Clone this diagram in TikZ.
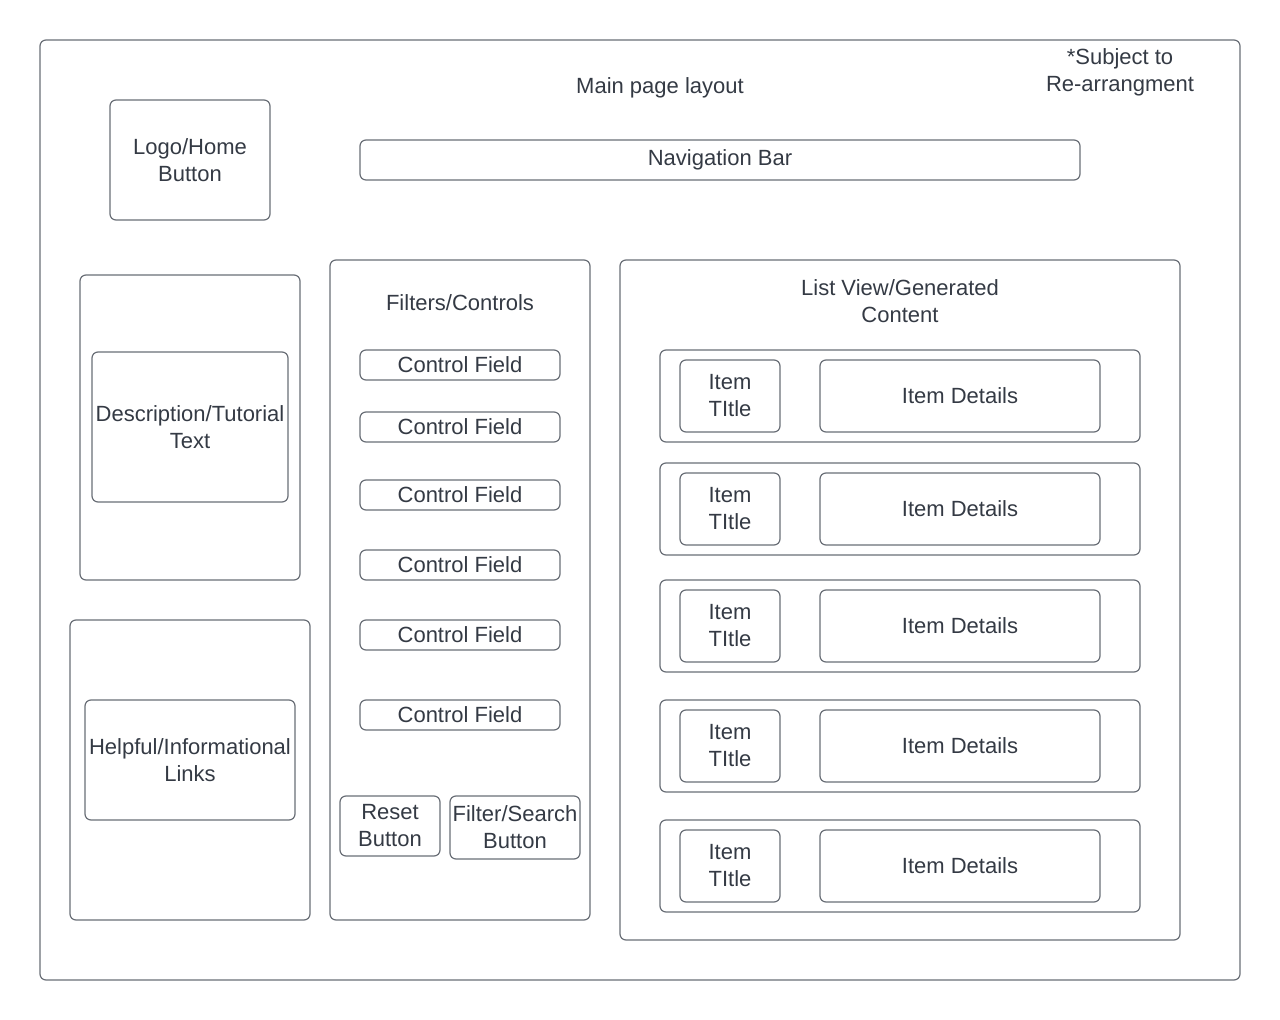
\documentclass[tikz,border=0pt]{standalone}
\usepackage{fontspec}
\setmainfont{Liberation Sans}
\usepackage{xcolor}
\usepackage{tikz}
\usetikzlibrary{positioning}
\definecolor{WireLine}{RGB}{105,110,118}
\definecolor{WireText}{RGB}{52,58,68}

\begin{document}
\begin{tikzpicture}[
  x=0.5pt, y=-0.5pt,
  frame/.style={rectangle, rounded corners=3pt, draw=WireLine, line width=0.6pt, inner sep=0pt, align=center, text=WireText, font=\fontsize{11}{13.5}\selectfont},
  caption/.style={inner sep=0pt, align=center, text=WireText, font=\fontsize{11}{13.5}\selectfont}
]
\useasboundingbox (0,0) rectangle (1280,1020);

% Page frame + header
\node[frame, minimum width=600pt, minimum height=470pt] (page) at (640,510) {};
\node[caption] (pagetitle) at (660,88) {Main page layout};
\node[caption] (note) at (1120,72) {*Subject to\\Re-arrangment};
\node[frame, minimum width=80pt, minimum height=60pt] (logo) at (190,160) {Logo/Home\\Button};
\node[frame, minimum width=360pt, minimum height=20pt] (navbar) at (720,160) {Navigation Bar};

% Left column
\node[frame, minimum width=110pt, minimum height=152.5pt] (descpanel) at (190,427.5) {};
\node[frame, minimum width=98pt, minimum height=75pt] (desc) at (190,427) {Description/Tutorial\\Text};
\node[frame, minimum width=120pt, minimum height=150pt] (helppanel) at (190,770) {};
\node[frame, minimum width=105pt, minimum height=60pt] (links) at (190,760) {Helpful/Informational\\Links};

% Filters column
\node[frame, minimum width=130pt, minimum height=330pt] (filters) at (460,590) {};
\node[caption] (filterstitle) at (460,303) {Filters/Controls};
\foreach \y [count=\i] in {365,427,495,565,635,715}
  \node[frame, minimum width=100pt, minimum height=15pt] (control\i) at (460,\y) {Control Field};
\node[frame, minimum width=50pt, minimum height=30pt] (reset) at (390,826) {Reset\\Button};
\node[frame, minimum width=65pt, minimum height=31.5pt] (search) at (515,827.5) {Filter/Search\\Button};

% List view
\node[frame, minimum width=280pt, minimum height=340pt] (listview) at (900,600) {};
\node[caption] (listtitle) at (900,301) {List View/Generated\\Content};
\foreach \y [count=\i] in {396,509,626,746,866} {
  \node[frame, minimum width=240pt, minimum height=46pt] (row\i) at (900,\y) {};
  \node[frame, minimum width=50pt, minimum height=36pt] (title\i) at (730,\y) {Item\\TItle};
  \node[frame, minimum width=140pt, minimum height=36pt] (details\i) at (960,\y) {Item Details};
}

\end{tikzpicture}
\end{document}
